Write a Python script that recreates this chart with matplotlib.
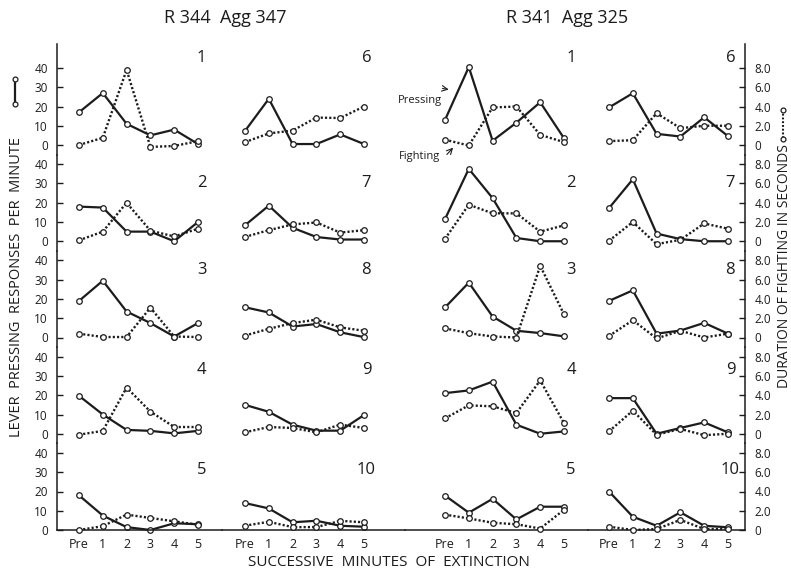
import matplotlib.pyplot as plt
from matplotlib.lines import Line2D

plt.rcParams['font.family'] = ['Open Sans', 'DejaVu Sans']

minutes = ["Pre", "1", "2", "3", "4", "5"]
titles = ["R 344  Agg 347", "R 341  Agg 325"]

# lever pressing (responses per minute), one list per panel, Pre..5
r344_press = [
    [17, 27, 11, 5, 8, 0.5],
    [18, 17.5, 5, 5, 0, 10],
    [19, 29.5, 13.5, 7.5, 0.5, 7.5],
    [19.7, 10, 2, 1.5, 0.2, 1.5],
    [18, 7.5, 1.5, 0, 3.5, 3],
    [7.3, 24, 0.5, 0.5, 5.5, 0.5],
    [8.3, 18.5, 7, 2.2, 0.9, 0.9],
    [15.7, 13, 5.7, 7, 2.7, 0.2],
    [15, 11.4, 4.7, 1.6, 1.6, 9.7],
    [14, 11.2, 4, 4.8, 2.2, 1.7],
]
# duration of fighting (seconds)
r344_fight = [
    [0, 0.75, 7.8, -0.2, -0.1, 0.4],
    [0.1, 1.0, 4.0, 1.1, 0.5, 1.3],
    [0.4, 0.05, 0.05, 3.1, 0.1, 0.05],
    [-0.1, 0.3, 4.8, 2.3, 0.7, 0.7],
    [0, 0.4, 1.6, 1.25, 0.9, 0.55],
    [0.3, 1.2, 1.5, 2.85, 2.8, 4.0],
    [0.45, 1.15, 1.75, 1.95, 0.9, 1.15],
    [0.2, 0.9, 1.5, 1.85, 1.05, 0.7],
    [0.15, 0.7, 0.6, 0.15, 0.95, 0.6],
    [0.45, 0.85, 0.3, 0.3, 0.95, 0.8],
]
r341_press = [
    [13, 40.5, 2.2, 11.6, 22.2, 3.5],
    [11.5, 37.6, 22.4, 1.7, 0, 0],
    [15.6, 28.5, 10.9, 3.5, 2.3, 0.6],
    [21.1, 22.5, 27.1, 4.7, 0, 1.2],
    [17.9, 9, 16.2, 5.5, 12.1, 12.1],
    [19.5, 26.9, 5.8, 4.4, 14.4, 4.6],
    [17.2, 32.2, 4, 1.1, 0, 0],
    [19, 24.5, 2, 3.6, 7.6, 2],
    [18.5, 18.5, 0, 3, 5.9, 0.7],
    [20, 6.9, 2.2, 9.2, 2.2, 1.4],
]
r341_fight = [
    [0.55, -0.05, 3.9, 4.0, 1.05, 0.3],
    [0.25, 3.8, 2.9, 2.9, 1.0, 1.65],
    [0.95, 0.45, 0.1, 0.0, 7.45, 2.4],
    [1.6, 2.95, 2.85, 2.15, 5.55, 1.1],
    [1.6, 1.2, 0.75, 0.6, 0.15, 2.1],
    [0.4, 0.5, 3.3, 1.75, 2.0, 2.0],
    [0.05, 2.0, -0.3, 0.15, 1.85, 1.3],
    [0.15, 1.8, -0.1, 0.7, 0.0, 0.4],
    [0.25, 2.4, -0.1, 0.5, -0.15, 0],
    [0.35, 0, 0.1, 1.05, 0.1, 0.1],
]

press_ticks = [0, 10, 20, 30, 40]
fight_ticks = [0, 2, 4, 6, 8]
fight_labels = ["0", "2.0", "4.0", "6.0", "8.0"]

ink = "#1c1c1c"
dots = (0, (0.9, 0.9))
W, H = 791, 572
fig = plt.figure(figsize=(W / 100, H / 100), dpi=100)

# layout in pixels
col_edges = [57, 222, 405, 588, 745]
pre_px = [79, 245, 445, 609]
step = 23.8
row_step = 96.25
unit = row_step / 50
top_px = 44
num_x = [5.15, 5.1, 5.3, 5.1]
num_y = [45, 30, 35, 33, 31]

for r in range(5):
    z = 145 + r * row_step
    y_top = top_px if r == 0 else z - 45 * unit
    y_bot = z + 5 * unit
    lo, hi = (z - y_bot) / unit, (z - y_top) / unit
    for c in range(4):
        x0, x1 = col_edges[c], col_edges[c + 1]
        ax = fig.add_axes([x0 / W, 1 - y_bot / H, (x1 - x0) / W, (y_bot - y_top) / H])
        ax.set_xlim((x0 - pre_px[c]) / step, (x1 - pre_px[c]) / step)
        ax.set_ylim(lo, hi)
        ax.patch.set_visible(False)
        for s in ax.spines.values():
            s.set_visible(False)
        ax2 = ax.twinx()
        ax2.set_ylim(lo / 5, hi / 5)
        for s in ax2.spines.values():
            s.set_visible(False)

        if c < 2:
            press, fight = r344_press[c * 5 + r], r344_fight[c * 5 + r]
        else:
            press, fight = r341_press[(c - 2) * 5 + r], r341_fight[(c - 2) * 5 + r]
        num = (c % 2) * 5 + r + 1

        ax.plot(range(6), press, color=ink, lw=1.6, marker='o', ms=4,
                mfc='white', mec=ink, mew=0.9, clip_on=False)
        ax2.plot(range(6), fight, color=ink, lw=1.7, ls=dots, marker='o',
                 ms=4, mfc='white', mec=ink, mew=0.9, clip_on=False)
        ax.text(num_x[c], num_y[r], str(num), ha='center', va='center',
                fontsize=12, color=ink)

        if c == 0:
            ax.spines['left'].set_visible(True)
            ax.spines['left'].set_linewidth(1.1)
            ax.spines['left'].set_color(ink)
            if r == 4:
                ax.spines['left'].set_bounds(0, hi)
            ax.set_yticks(press_ticks)
            ax.set_yticklabels([str(t) for t in press_ticks])
            ax.tick_params(axis='y', direction='in', length=4, width=1,
                           pad=6.5, labelsize=8.5, colors=ink)
        else:
            ax.set_yticks([])
        if c == 3:
            ax2.spines['right'].set_visible(True)
            ax2.spines['right'].set_linewidth(1.1)
            ax2.spines['right'].set_color(ink)
            if r == 4:
                ax2.spines['right'].set_bounds(0, hi / 5)
            ax2.set_yticks(fight_ticks)
            ax2.set_yticklabels(fight_labels)
            ax2.tick_params(axis='y', direction='in', length=4, width=1,
                            pad=7, labelsize=8.5, colors=ink)
        else:
            ax2.set_yticks([])

        if r == 4:
            ax.spines['bottom'].set_visible(True)
            ax.spines['bottom'].set_position(('data', 0))
            ax.spines['bottom'].set_linewidth(1.1)
            ax.spines['bottom'].set_color(ink)
            ax.set_xticks(range(6))
            ax.set_xticklabels(minutes)
            ax.tick_params(axis='x', length=0, pad=6, labelsize=9, colors=ink)
        else:
            ax.set_xticks([])

        if r == 0 and c == 2:
            ax.annotate("", xy=(0.27, 28.6), xytext=(-0.22, 29.6),
                        arrowprops=dict(arrowstyle='->', lw=0.8, color=ink),
                        annotation_clip=False)
            ax.text(-0.12, 22.9, "Pressing", ha='right', va='center',
                    fontsize=8, color=ink)
            ax.annotate("", xy=(0.42, -0.3), xytext=(0.0, -6.0),
                        arrowprops=dict(arrowstyle='->', lw=0.8, color=ink),
                        annotation_clip=False)
            ax.text(-0.2, -6.2, "Fighting", ha='right', va='center',
                    fontsize=8, color=ink)

# headings and axis titles
fig.text(225 / W, 1 - 18 / H, titles[0], ha='center', va='center', fontsize=13, color=ink)
fig.text(567 / W, 1 - 18 / H, titles[1], ha='center', va='center', fontsize=13, color=ink)
fig.text(17 / W, 1 - 287 / H, "LEVER  PRESSING  RESPONSES  PER  MINUTE", rotation=90,
         ha='center', va='center', fontsize=10.5, color=ink)
fig.text(784 / W, 1 - 266 / H, "DURATION OF FIGHTING IN SECONDS", rotation=90,
         ha='center', va='center', fontsize=10, color=ink)
fig.text(389 / W, 1 - 563 / H, "SUCCESSIVE  MINUTES  OF  EXTINCTION",
         ha='center', va='center', fontsize=11, color=ink)

# small line keys beside the axis titles
fig.add_artist(Line2D([15 / W, 15 / W], [1 - 79 / H, 1 - 104 / H], color=ink, lw=1.6,
                      marker='o', ms=3.5, mfc='white', mec=ink, mew=0.9))
fig.add_artist(Line2D([783 / W, 783 / W], [1 - 110 / H, 1 - 139 / H], color=ink, lw=1.5,
                      ls=dots, marker='o', ms=3.5, mfc='white', mec=ink, mew=0.9))

fig.savefig("out.png", dpi=100)
